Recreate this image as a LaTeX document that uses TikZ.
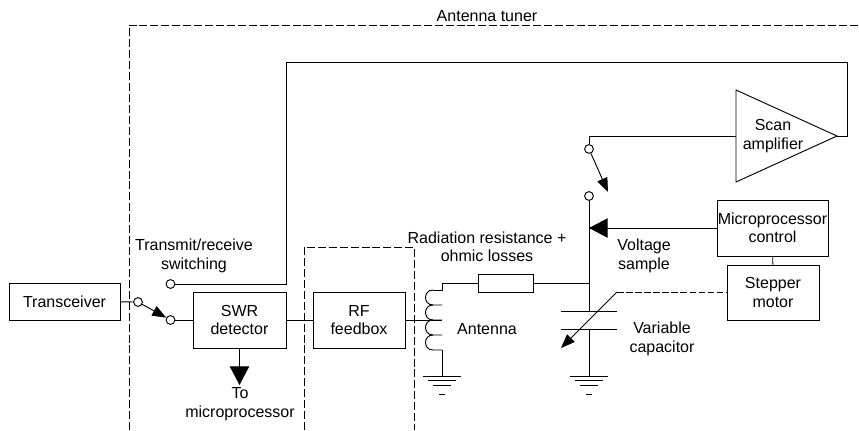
\documentclass[tikz,border=0pt]{standalone}
\usepackage{fontspec}
\setmainfont{Liberation Sans}
\usetikzlibrary{arrows.meta}
\tikzset{
  block/.style={draw,align=center,inner sep=0pt},
  label/.style={align=center,inner sep=0pt},
  contact/.style={draw,circle,fill=white,inner sep=0pt,minimum size=6.6pt},
  bighead/.style={-{Triangle[length=14pt,width=14.5pt]}},
  smallhead/.style={-{Triangle[length=10.5pt,width=8pt]}},
  tuner/.style={dashed,dash pattern=on 6pt off 2.2pt},
  earth/.pic={
    \draw (-19,0)--(19,0);
    \draw (-14,4.7)--(14,4.7);
    \draw (-9,9.3)--(9,9.3);
    \draw (-3,18)--(3,18);
  }
}
\begin{document}
\begin{tikzpicture}[x=0.75pt,y=-0.75pt,line width=0.7pt,font=\fontsize{12}{13.9}\selectfont]
  \useasboundingbox (0,0) rectangle (859,430);
  % dashed enclosures
  \draw[tuner] (129,430) -- (129,25) -- (859,25);
  \draw[tuner] (304,430) -- (304,247) -- (414,247) -- (414,430);
  \node[label] (tunerlabel) at (487,16){Antenna tuner};
  % blocks
  \node[block,minimum width=83.25pt,minimum height=27.75pt] (transceiver) at (64.5,301.5){Transceiver};
  \node[block,minimum width=69.75pt,minimum height=42pt] (swr) at (239.5,320){SWR\\detector};
  \node[block,minimum width=69pt,minimum height=42pt] (rf) at (359,320){RF\\feedbox};
  \node[block,minimum width=83.25pt,minimum height=42pt] (micro) at (772.5,228){Microprocessor\\control};
  \node[block,minimum width=69pt,minimum height=41.25pt] (stepper) at (773,292.5){Stepper\\motor};
  \node[block,minimum width=41.25pt,minimum height=13.5pt] (res) at (506,283){};
  % switch contacts
  \node[contact] (swa) at (138,302){};
  \node[contact] (swb) at (170.5,320){};
  \node[contact] (swc) at (170.5,284){};
  \node[contact] (swd) at (589,149){};
  \node[contact] (swe) at (589,196){};
  % amplifier
  \coordinate (ampin) at (736,136);
  \coordinate (amptip) at (837,136);
  \draw (736,90) -- (amptip) -- (736,182) -- cycle;
  \node[label] (amplabel) at (773,136){Scan\\amplifier};
  % wiring on the left
  \draw (transceiver) -- (swa);
  \draw[smallhead] (swa) -- (swb);
  \draw (swb) -- (swr);
  \draw (swr) -- (rf);
  \coordinate (coilmid) at (442,320);
  \draw (rf) -- (coilmid);
  \draw (swc) -- (286,284) -- (286,62) -- (847,62) -- (847,136) -- (amptip);
  \coordinate (swrtip) at (239.5,385);
  \draw[bighead] (swr) -- (swrtip);
  % coil
  \coordinate (coiltop) at (442,283);
  \coordinate (coilend) at (442,376);
  \draw (res) -- (coiltop) -- (442,290) -- (433,290);
  \foreach \y in {290,305,320,335}{
    \draw (433,\y) .. controls (423,\y) and (423,\y+15) .. (433,\y+15) -- (442,\y+15);
  }
  \draw (442,350) -- (coilend);
  \pic at (coilend) {earth};
  % wiring on the right
  \coordinate (plateup) at (589,311);
  \coordinate (platedn) at (589,329);
  \coordinate (captop) at (617,292);
  \coordinate (capend) at (561,348);
  \coordinate (gnd) at (589,376);
  \coordinate (samptip) at (589,228);
  \coordinate (swtip) at (608,192);
  \draw (ampin) -- (589,136) -- (swd);
  \draw[smallhead] (swd) -- (swtip);
  \draw (swe) -- (plateup);
  \draw (res) -- (589,283);
  \draw (561,311) -- (617,311);
  \draw (561,329) -- (617,329);
  \draw (platedn) -- (gnd);
  \pic at (gnd) {earth};
  \draw[smallhead] (captop) -- (capend);
  \draw[dashed,dash pattern=on 5pt off 1.8pt] (captop) -- (stepper.west |- captop);
  \draw[bighead] (micro) -- (samptip);
  \draw (micro) -- (stepper);
  % labels
  \node[label] (trlabel) at (194,256){Transmit/receive\\switching};
  \node[label] (tolabel) at (240,404){To\\microprocessor};
  \node[label] (radlabel) at (487,247){Radiation resistance +\\ohmic losses};
  \node[label] (antlabel) at (487,329){Antenna};
  \node[label] (vollabel) at (644,256){Voltage\\sample};
  \node[label] (caplabel) at (662,339){Variable\\capacitor};
\end{tikzpicture}
\end{document}
